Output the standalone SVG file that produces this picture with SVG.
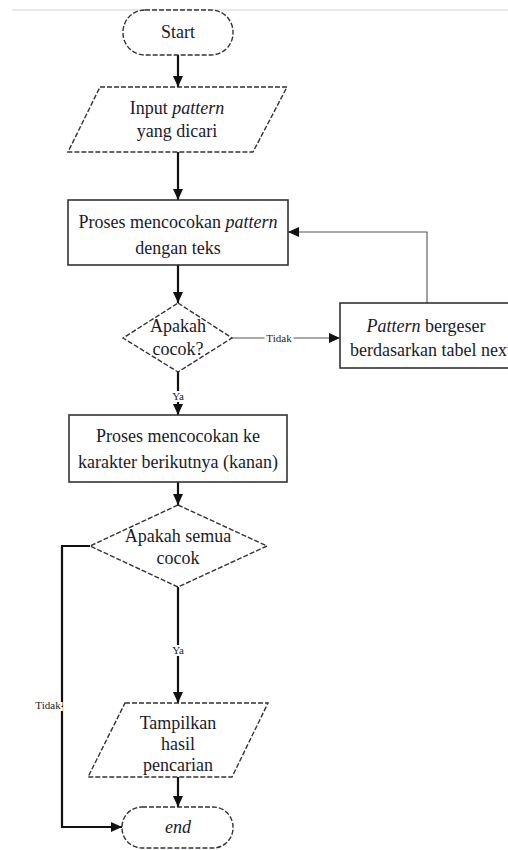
<svg xmlns="http://www.w3.org/2000/svg" width="508" height="850" viewBox="0 0 508 850">
<style>
.t{font-size:18px;fill:#1a1a2a;text-anchor:middle}
.s{font-size:11px;fill:#1a1a2a;text-anchor:middle;stroke:#fff;stroke-width:4px;paint-order:stroke}
.d{fill:#fff;stroke:#333;stroke-width:1.4;stroke-dasharray:5 2}
.p{fill:#fff;stroke:#333;stroke-width:1.6}
.c{fill:none;stroke:#111;stroke-width:2.2}
.c2{fill:none;stroke:#555;stroke-width:1.1}
</style>
<defs>
<marker id="a" markerUnits="userSpaceOnUse" markerWidth="12" markerHeight="12" refX="11" refY="6" orient="auto">
<path d="M0,1 L11,6 L0,11 Z" fill="#111"/>
</marker>
</defs>
<rect width="508" height="850" fill="#fff"/>
<line x1="12" y1="10" x2="508" y2="10" stroke="#e2e2e2" stroke-width="1.5"/>
<g font-family="Liberation Serif, DejaVu Serif, serif">
<g id="connectors">
<path class="c" d="M178,55 V87" marker-end="url(#a)"/>
<path class="c" d="M178,152 V200" marker-end="url(#a)"/>
<path class="c" d="M178,265 V303" marker-end="url(#a)"/>
<path class="c" d="M178,372 V415" marker-end="url(#a)"/>
<text class="s" x="178" y="400">Ya</text>
<path class="c2" d="M232,338 H340" marker-end="url(#a)"/>
<text class="s" x="279" y="342">Tidak</text>
<path class="c2" d="M427,303 V232 H288" marker-end="url(#a)"/>
<path class="c" d="M178,482 V505" marker-end="url(#a)"/>
<path class="c" d="M178,587 V703" marker-end="url(#a)"/>
<text class="s" x="178" y="654">Ya</text>
<path class="c" d="M90,546 H62 V827 H122" marker-end="url(#a)"/>
<text class="s" x="48" y="709">Tidak</text>
<path class="c" d="M178,777 V807" marker-end="url(#a)"/>
</g>
<g id="start">
<rect class="d" x="123" y="10" width="110" height="45" rx="22"/>
<text class="t" x="178" y="38">Start</text>
</g>
<g id="input">
<polygon class="d" points="100,87 287,87 253,152 68,152"/>
<text class="t" x="177" y="114">Input <tspan font-style="italic">pattern</tspan></text>
<text class="t" x="177" y="137">yang dicari</text>
</g>
<g id="proses1">
<rect class="p" x="68" y="200" width="220" height="65"/>
<text class="t" x="178" y="228">Proses mencocokan <tspan font-style="italic">pattern</tspan></text>
<text class="t" x="178" y="254">dengan teks</text>
</g>
<g id="cek1">
<polygon class="d" points="178,303 232,338 178,372 123,338"/>
<text class="t" x="178" y="332">Apakah</text>
<text class="t" x="178" y="355">cocok?</text>
</g>
<g id="geser">
<rect class="p" x="340" y="303" width="180" height="65"/>
<text class="t" x="426" y="332"><tspan font-style="italic">Pattern</tspan> bergeser</text>
<text class="t" x="431" y="356">berdasarkan tabel next</text>
</g>
<g id="proses2">
<rect class="p" x="69" y="415" width="218" height="67"/>
<text class="t" x="178" y="442">Proses mencocokan ke</text>
<text class="t" x="178" y="468">karakter berikutnya (kanan)</text>
</g>
<g id="cek2">
<polygon class="d" points="178,505 267,546 178,587 90,546"/>
<text class="t" x="178" y="542">Apakah semua</text>
<text class="t" x="178" y="564">cocok</text>
</g>
<g id="output">
<polygon class="d" points="125,703 268,703 232,777 88,777"/>
<text class="t" x="178" y="729">Tampilkan</text>
<text class="t" x="178" y="750">hasil</text>
<text class="t" x="178" y="771">pencarian</text>
</g>
<g id="end">
<rect class="d" x="122" y="807" width="111" height="41" rx="20"/>
<text class="t" x="178" y="833" font-style="italic">end</text>
</g>
</g>
</svg>
